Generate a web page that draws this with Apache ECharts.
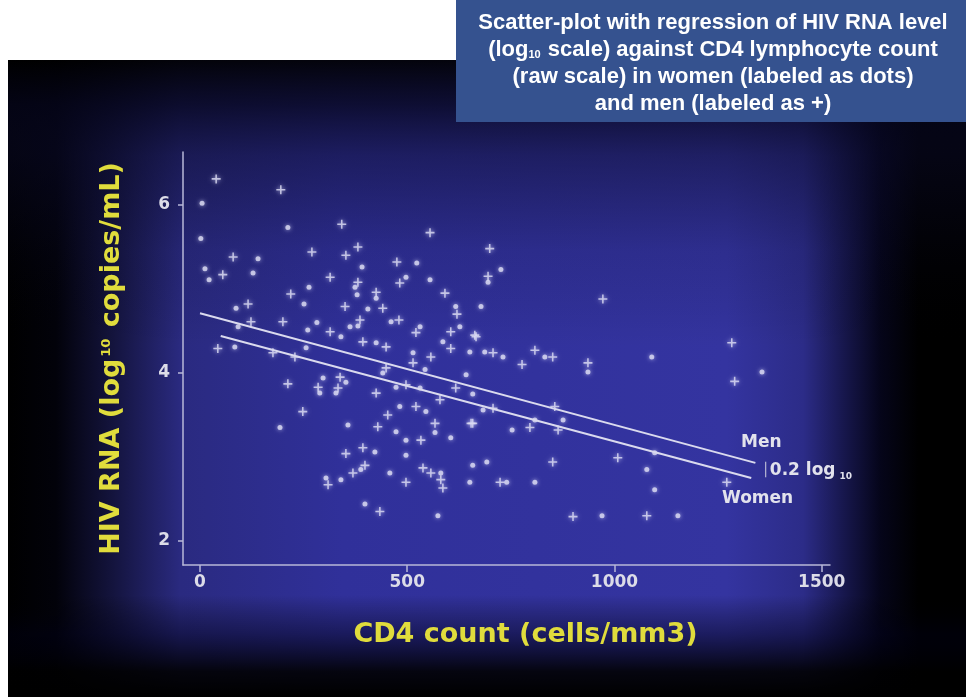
<!DOCTYPE html>
<html>
<head>
<meta charset="utf-8">
<title>HIV RNA vs CD4</title>
<script src="https://cdn.jsdelivr.net/npm/echarts@6/dist/echarts.min.js"></script>
<style>
  html, body { margin: 0; padding: 0; background: #fff; }
  #chart { width: 966px; height: 697px; }
</style>
</head>
<body>
<div id="chart"></div>
<script>
// values
const menCD4 = [39, 195, 342, 381, 555, 270, 80, 352, 475, 55, 314, 482, 381, 219, 425, 591, 116, 350, 441, 620,
  200, 123, 386, 480, 521, 314, 605, 666, 605, 393, 449, 43, 176, 557, 699, 695, 663, 972, 1283, 707,
  808, 851, 212, 285, 338, 333, 425, 497, 514, 617, 248, 453, 521, 579, 429, 567, 654, 533, 393, 352,
  398, 538, 369, 557, 581, 309, 497, 586, 434, 936, 777, 1290, 707, 856, 864, 796, 658, 1008, 851, 1271,
  724, 900, 1078, 449, 229]
const menRNA = [6.31, 6.18, 5.77, 5.50, 5.67, 5.44, 5.38, 5.40, 5.32, 5.17, 5.14, 5.07, 5.08, 4.94, 4.96, 4.95, 4.82, 4.79, 4.77, 4.70,
  4.61, 4.61, 4.63, 4.63, 4.48, 4.49, 4.49, 4.43, 4.29, 4.37, 4.31, 4.29, 4.24, 4.19, 5.48, 5.15, 4.45, 4.88, 4.36, 4.24,
  4.27, 4.19, 3.87, 3.83, 3.95, 3.82, 3.76, 3.86, 4.12, 3.82, 3.54, 3.50, 3.60, 3.68, 3.36, 3.40, 3.40, 3.20, 3.11, 3.04,
  2.90, 2.87, 2.81, 2.81, 2.73, 2.67, 2.70, 2.63, 2.35, 4.12, 4.10, 3.90, 3.58, 3.60, 3.32, 3.35, 3.40, 2.99, 2.94, 2.70,
  2.70, 2.29, 2.30, 4.06, 4.19]

const womenCD4 = [5, 212, 2, 140, 391, 523, 12, 128, 22, 497, 555, 374, 263, 379, 425, 251, 87, 405, 617, 678,
  282, 92, 461, 531, 260, 362, 381, 627, 586, 340, 425, 514, 84, 651, 256, 726, 695, 687, 731, 832,
  1090, 297, 289, 352, 328, 473, 441, 642, 531, 193, 482, 545, 357, 473, 567, 497, 605, 422, 497, 388,
  658, 458, 581, 304, 340, 651, 398, 574, 936, 1356, 658, 683, 876, 808, 753, 1097, 1078, 692, 1097, 808,
  740, 970, 1153, 543]
const womenRNA = [6.02, 5.73, 5.60, 5.36, 5.26, 5.31, 5.24, 5.19, 5.11, 5.14, 5.11, 5.02, 5.02, 4.93, 4.89, 4.82, 4.77, 4.76, 4.79, 4.79,
  4.60, 4.55, 4.61, 4.55, 4.51, 4.55, 4.56, 4.55, 4.37, 4.43, 4.36, 4.24, 4.31, 4.25, 4.30, 5.23, 5.08, 4.25, 4.19, 4.19,
  4.19, 3.94, 3.76, 3.89, 3.76, 3.83, 4.00, 3.98, 3.82, 3.35, 3.60, 3.54, 3.38, 3.30, 3.29, 3.20, 3.23, 3.06, 3.02, 2.85,
  2.90, 2.81, 2.81, 2.75, 2.73, 2.70, 2.44, 2.30, 4.01, 4.01, 3.75, 3.56, 3.44, 3.44, 3.32, 3.05, 2.85, 2.94, 2.61, 2.70,
  2.70, 2.30, 2.30, 4.04]

// fitted lines (end points)
const menFitCD4 = [0, 1340]
const menFitRNA = [4.71, 2.93]
const womenFitCD4 = [50, 1330]
const womenFitRNA = [4.44, 2.75]

const xTicks = [0, 500, 1000, 1500]
const yTicks = [2, 4, 6]

const titleLines = [
  'Scatter-plot with regression of HIV RNA level',
  '(log{sub|10} scale) against CD4 lymphocyte count',
  '(raw scale) in women (labeled as dots)',
  'and men (labeled as +)'
]

const zip = (a, b) => a.map((v, i) => [v, b[i]])

const slideFont = 'DejaVu Sans'
const pointColor = '#dedef4'
const plusPath = 'path://M-0.7,-4h1.4v8h-1.4z M-4,-0.7h8v1.4h-8z'

const chart = echarts.init(document.getElementById('chart'))

chart.setOption({
  backgroundColor: '#ffffff',
  animation: false,
  graphic: [
    {
      type: 'rect', z: -20, silent: true,
      shape: { x: 8, y: 60, width: 958, height: 637 },
      style: {
        fill: {
          type: 'linear', x: 0, y: 0, x2: 1, y2: 0,
          colorStops: [
            { offset: 0, color: '#000000' },
            { offset: 0.05, color: '#02020a' },
            { offset: 0.11, color: '#14143e' },
            { offset: 0.18, color: '#2a2a80' },
            { offset: 0.35, color: '#30309a' },
            { offset: 0.75, color: '#3434a0' },
            { offset: 0.83, color: '#2c2c88' },
            { offset: 0.87, color: '#181850' },
            { offset: 0.91, color: '#05051a' },
            { offset: 0.95, color: '#000000' },
            { offset: 1, color: '#000000' }
          ]
        }
      }
    },
    {
      type: 'rect', z: -19, silent: true,
      shape: { x: 8, y: 60, width: 958, height: 637 },
      style: {
        fill: {
          type: 'linear', x: 0, y: 0, x2: 0, y2: 1,
          colorStops: [
            { offset: 0, color: 'rgba(0,0,0,0.92)' },
            { offset: 0.07, color: 'rgba(5,5,25,0.8)' },
            { offset: 0.15, color: 'rgba(10,10,40,0.5)' },
            { offset: 0.3, color: 'rgba(10,10,40,0.15)' },
            { offset: 0.45, color: 'rgba(0,0,0,0)' },
            { offset: 0.84, color: 'rgba(0,0,0,0)' },
            { offset: 0.9, color: 'rgba(0,0,20,0.45)' },
            { offset: 0.96, color: 'rgba(0,0,0,0.9)' },
            { offset: 1, color: 'rgba(0,0,0,1)' }
          ]
        }
      }
    },
    // title box
    {
      type: 'rect', z: 50, silent: true,
      shape: { x: 456, y: 0, width: 510, height: 122 },
      style: { fill: '#35528f' }
    },
    ...titleLines.map((t, i) => ({
      type: 'text', z: 51, silent: true,
      x: 713, y: 23 + i * 27,
      style: {
        text: t,
        fill: '#ffffff',
        font: 'bold 22px "Liberation Sans", Arial, sans-serif',
        align: 'center',
        verticalAlign: 'middle',
        rich: {
          sub: { fontSize: 11, fontWeight: 'bold', fontFamily: 'Liberation Sans', fill: '#ffffff', padding: [9, 1, 0, 0] }
        }
      }
    })),
    // annotations at the line ends
    {
      type: 'text', z: 30, silent: true, x: 741, y: 443,
      style: { text: 'Men', fill: '#e2e2ec', font: 'bold 17px "DejaVu Sans"', verticalAlign: 'middle' }
    },
    {
      type: 'text', z: 30, silent: true, x: 762, y: 471,
      style: {
        text: '{bar|\u2502}0.2 log{sub|10}',
        fill: '#e2e2ec', font: 'bold 17px "DejaVu Sans"', verticalAlign: 'middle',
        rich: {
          bar: { fontSize: 13, fontWeight: 'normal', fill: '#c8c8dc', fontFamily: 'DejaVu Sans' },
          sub: { fontSize: 9, fontWeight: 'bold', fill: '#e2e2ec', fontFamily: 'DejaVu Sans', padding: [12, 0, 0, 4] }
        }
      }
    },
    {
      type: 'text', z: 30, silent: true, x: 722, y: 499,
      style: { text: 'Women', fill: '#e2e2ec', font: 'bold 17px "DejaVu Sans"', verticalAlign: 'middle' }
    }
  ],
  grid: {
    left: 183,
    right: 136,
    top: 152,
    bottom: 132
  },
  xAxis: {
    type: 'value',
    min: -41,
    max: 1520,
    name: 'CD4 count (cells/mm3)',
    nameLocation: 'middle',
    nameGap: 56,
    nameTextStyle: {
      color: '#e0dc3c',
      fontFamily: slideFont,
      fontWeight: 'bold',
      fontSize: 27,
      padding: [0, 0, 0, 38]
    },
    axisLine: { show: true, onZero: false, lineStyle: { color: '#b8b8d8', width: 1.5 } },
    axisTick: { show: true, customValues: xTicks, length: 7, lineStyle: { color: '#b8b8d8', width: 1.5 } },
    axisLabel: {
      customValues: xTicks,
      formatter: v => String(v),
      margin: 9,
      color: '#dcdce8',
      fontFamily: slideFont,
      fontWeight: 'bold',
      fontSize: 17
    },
    splitLine: { show: false }
  },
  yAxis: {
    type: 'value',
    min: 1.714,
    max: 6.63,
    name: '{a|HIV RNA (log}{s|10}{a| copies/mL)}',
    nameLocation: 'middle',
    nameRotate: 90,
    nameGap: 58,
    nameTextStyle: {
      rich: {
        a: { color: '#e0dc3c', fontFamily: slideFont, fontWeight: 'bold', fontSize: 27 },
        s: { color: '#e0dc3c', fontFamily: slideFont, fontWeight: 'bold', fontSize: 13, padding: [0, 2, 10, 2] }
      }
    },
    axisLine: { show: true, onZero: false, lineStyle: { color: '#b8b8d8', width: 1.5 } },
    axisTick: { show: true, customValues: yTicks, length: 5, lineStyle: { color: '#b8b8d8', width: 1.5 } },
    axisLabel: {
      customValues: yTicks,
      margin: 13,
      color: '#dcdce8',
      fontFamily: slideFont,
      fontWeight: 'bold',
      fontSize: 17
    },
    splitLine: { show: false }
  },
  series: [
    {
      name: 'Women',
      type: 'scatter',
      data: zip(womenCD4, womenRNA),
      symbol: 'circle',
      symbolSize: 5,
      itemStyle: { color: pointColor, shadowColor: 'rgba(220,220,255,0.9)', shadowBlur: 4 }
    },
    {
      name: 'Men',
      type: 'scatter',
      data: zip(menCD4, menRNA),
      symbol: plusPath,
      symbolSize: 9,
      itemStyle: { color: pointColor, shadowColor: 'rgba(220,220,255,0.9)', shadowBlur: 4 }
    },
    {
      name: 'Men fit',
      type: 'line',
      data: zip(menFitCD4, menFitRNA),
      showSymbol: false,
      lineStyle: { color: '#dadaee', width: 2 }
    },
    {
      name: 'Women fit',
      type: 'line',
      data: zip(womenFitCD4, womenFitRNA),
      showSymbol: false,
      lineStyle: { color: '#dadaee', width: 2 }
    }
  ]
})
</script>
</body>
</html>
